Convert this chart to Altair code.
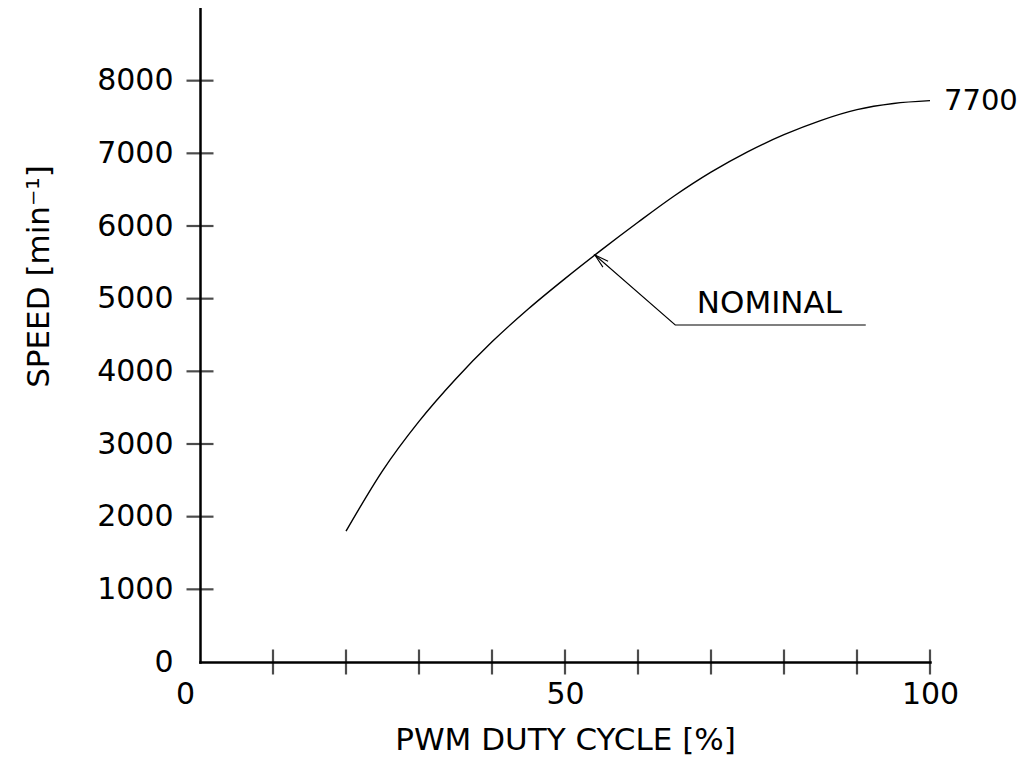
import altair as alt
import pandas as pd

# Curve data
duty_pct = [20, 25, 30, 35, 40, 45, 50, 55, 60, 65, 70, 75, 80, 85, 90, 95, 100]
speed_rpm = [1800, 2631, 3311, 3891, 4406, 4861, 5276, 5671, 6051, 6416, 6741, 7021, 7256, 7451, 7601, 7686, 7725]

# Axis ticks / labels
x_tick_vals = [10, 20, 30, 40, 50, 60, 70, 80, 90, 100]
y_tick_vals = [1000, 2000, 3000, 4000, 5000, 6000, 7000, 8000]
x_label_vals = [0, 50, 100]
y_label_vals = [0, 1000, 2000, 3000, 4000, 5000, 6000, 7000, 8000]

# Annotation (leader line) for NOMINAL
ann_x = [54.1, 65.1, 91.2]
ann_y = [5601, 4638, 4638]
ann_tip_x = [54.1]
ann_tip_y = [5601]
nominal_label = ["NOMINAL"]
nominal_x = [78.0]
nominal_y = [4638]
end_label = ["7700"]

FONT = "DejaVu Sans"
FS_NUM = 30
FS_TXT = 31

curve_df = pd.DataFrame({"pct": duty_pct, "speed": speed_rpm})
xt_df = pd.DataFrame({"pct": x_tick_vals, "speed": [0] * len(x_tick_vals)})
yt_df = pd.DataFrame({"pct": [0] * len(y_tick_vals), "speed": y_tick_vals})
ann_df = pd.DataFrame({"pct": ann_x, "speed": ann_y, "o": list(range(len(ann_x)))})
tip_df = pd.DataFrame({"pct": ann_tip_x, "speed": ann_tip_y})
nom_df = pd.DataFrame({"pct": nominal_x, "speed": nominal_y, "t": nominal_label})
end_df = pd.DataFrame({"pct": [duty_pct[-1]], "speed": [speed_rpm[-1]], "t": end_label})

xscale = alt.Scale(domain=[0, 100], nice=False, zero=False)
yscale = alt.Scale(domain=[0, 9000], nice=False, zero=False)

x_axis = alt.Axis(
    values=x_label_vals, ticks=False, tickSize=0, grid=False, labelFlush=False,
    domainColor="black", domainWidth=2.5, domainCap="square",
    labelFont=FONT, labelFontSize=FS_NUM, labelColor="black", labelPadding=17,
    labelOffset=alt.condition("datum.value == 0", alt.value(-15), alt.value(0)),
    title="PWM DUTY CYCLE [%]", titleFont=FONT, titleFontSize=FS_TXT,
    titleFontWeight="normal", titleColor="black",
    titleY=87, titleBaseline="alphabetic",
)
y_axis = alt.Axis(
    values=y_label_vals, format="d", ticks=False, tickSize=0, grid=False,
    labelFlush=False,
    domainColor="black", domainWidth=2.5, domainCap="square",
    labelFont=FONT, labelFontSize=FS_NUM, labelColor="black", labelPadding=27,
    title="SPEED [min⁻¹]", titleFont=FONT, titleFontSize=FS_TXT,
    titleFontWeight="normal", titleColor="black",
    titleAngle=270, titleX=-152, titleY=268, titleAlign="center",
    titleBaseline="alphabetic",
)

curve = alt.Chart(curve_df).mark_line(
    color="black", strokeWidth=1.4, interpolate="monotone"
).encode(
    x=alt.X("pct:Q", scale=xscale, axis=x_axis),
    y=alt.Y("speed:Q", scale=yscale, axis=y_axis),
)

xticks = alt.Chart(xt_df).mark_tick(
    color="black", orient="vertical", size=25, thickness=2.2
).encode(x=alt.X("pct:Q", scale=xscale), y=alt.Y("speed:Q", scale=yscale))

yticks = alt.Chart(yt_df).mark_tick(
    color="black", orient="horizontal", size=27, thickness=2.2
).encode(x=alt.X("pct:Q", scale=xscale), y=alt.Y("speed:Q", scale=yscale))

ann = alt.Chart(ann_df).mark_line(color="black", strokeWidth=1.1).encode(
    x=alt.X("pct:Q", scale=xscale), y=alt.Y("speed:Q", scale=yscale), order="o:Q"
)

tip = alt.Chart(tip_df).mark_point(
    shape="M -0.28 1 L 0 0 L 0.28 1", size=784, filled=False,
    color="black", strokeWidth=1.1, angle=311, opacity=1
).encode(x=alt.X("pct:Q", scale=xscale), y=alt.Y("speed:Q", scale=yscale))

nom = alt.Chart(nom_df).mark_text(
    font=FONT, fontSize=FS_TXT, color="black", align="center",
    baseline="alphabetic", dy=-12
).encode(x=alt.X("pct:Q", scale=xscale), y=alt.Y("speed:Q", scale=yscale), text="t:N")

endlab = alt.Chart(end_df).mark_text(
    font=FONT, fontSize=29, color="black", align="left",
    baseline="middle", dx=14
).encode(x=alt.X("pct:Q", scale=xscale), y=alt.Y("speed:Q", scale=yscale), text="t:N")

chart = alt.layer(curve, xticks, yticks, ann, tip, nom, endlab).properties(
    width=730, height=654,
    background="white",
    autosize=alt.AutoSizeParams(type="none"),
    padding={"left": 192, "top": 0, "right": 88, "bottom": 94},
).configure_view(strokeWidth=0, stroke="transparent")

chart.save("out.html", embed_options={"renderer": "svg", "actions": False})
